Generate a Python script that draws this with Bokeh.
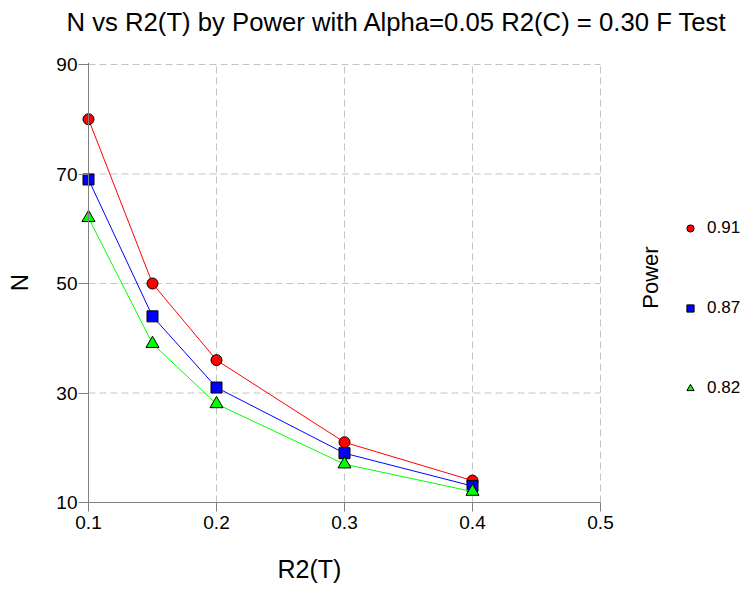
import math
from bokeh.plotting import figure
from bokeh.models import (Range1d, FixedTicker, Legend, LegendItem, Label, Span,
                          LinearAxis, Title)
from bokeh.embed import file_html
from bokeh.resources import INLINE

# ---- data ----
r2t = [0.1, 0.15, 0.2, 0.3, 0.4]
n_091 = [80, 50, 36, 21, 14]
n_087 = [69, 44, 31, 19, 13]
n_082 = [62, 39, 28, 17, 12]
powers = ["0.91", "0.87", "0.82"]
x_ticks = [0.1, 0.2, 0.3, 0.4, 0.5]
y_ticks = [10, 30, 50, 70, 90]
title_text = "N vs R2(T) by Power with Alpha=0.05 R2(C) = 0.30 F Test"
x_title = "R2(T)"
y_title = "N"
legend_title = "Power"

FONT = "Liberation Sans"
AXIS_GRAY = "#808080"
GRID_GRAY = "#c4c4c4"
DASH = "7 4"

# ---- layout (pixels) ----
W, H = 751, 589
AX_L, AX_R, AX_T, AX_B = 88, 600, 64, 502   # where x0..x1 / y0..y1 land
PAD_L, PAD_T = 10, 2                          # frame slack so edge markers are not clipped
FRAME_L = AX_L - PAD_L
x0, x1 = x_ticks[0], x_ticks[-1]
y0, y1 = y_ticks[0], y_ticks[-1]
sx = (AX_R - AX_L) / (x1 - x0)
sy = (AX_B - AX_T) / (y1 - y0)

p = figure(width=W, height=H,
           x_range=Range1d(x0 - PAD_L / sx, x1 + (W - AX_R) / sx),
           y_range=Range1d(y0, y1 + PAD_T / sy),
           output_backend="svg", toolbar_location=None,
           min_border_left=FRAME_L, min_border_right=0,
           min_border_top=AX_T - PAD_T, min_border_bottom=H - AX_B)
p.outline_line_color = None
p.background_fill_color = "white"
p.border_fill_color = "white"

xa = p.xaxis[0]
ya = p.yaxis[0]
for ax in (xa, ya):
    ax.axis_line_color = AXIS_GRAY
    ax.major_tick_line_color = AXIS_GRAY
    ax.minor_tick_line_color = None
    ax.major_label_text_font = FONT
    ax.major_label_text_font_size = "19px"
    ax.major_label_text_color = "black"
    ax.axis_label_text_font = FONT
    ax.axis_label_text_font_style = "normal"
    ax.axis_label_text_color = "black"

xa.ticker = FixedTicker(ticks=x_ticks)
xa.bounds = (x0, x1)
xa.major_tick_out = 9
xa.major_tick_in = 0
xa.major_label_standoff = 4

# y axis: ticks drawn inward across the left slack, axis line drawn at x0 by a Span
ya.ticker = FixedTicker(ticks=y_ticks)
ya.axis_line_color = None
ya.major_tick_out = 0
ya.major_tick_in = PAD_L
ya.major_label_standoff = 1
ya.axis_label = y_title
ya.axis_label_text_font_size = "24px"
ya.axis_label_standoff = 20
p.add_layout(Span(location=x0, dimension="height", line_color=AXIS_GRAY,
                  line_width=1, level="guide"))


def spacer(px):
    """An invisible axis used only to reserve px pixels in a side panel."""
    return LinearAxis(ticker=FixedTicker(ticks=[x0]),
                      major_label_overrides={x0: ""},
                      axis_line_color=None, major_tick_line_color=None,
                      minor_tick_line_color=None, major_tick_out=px,
                      major_tick_in=0, major_label_standoff=0,
                      major_label_text_font_size="0px")


# title: outermost panel above, lifted by a spacer
p.add_layout(spacer(27), "above")
p.title.text = title_text
p.title.text_font = FONT
p.title.text_font_size = "25.7px"
p.title.text_font_style = "normal"
p.title.text_color = "black"
p.title.align = "left"
p.title.vertical_align = "bottom"
p.title.offset = 66 - FRAME_L
if "standoff" in p.title.properties():
    p.title.standoff = 0

# x axis title: below the axis, left-aligned at the reference position
p.add_layout(spacer(23), "below")
xt = Title(text=x_title, align="left", vertical_align="top",
           offset=277 - FRAME_L, text_font=FONT, text_font_size="25px",
           text_font_style="normal", text_color="black")
if "standoff" in xt.properties():
    xt.standoff = 0
p.add_layout(xt, "below")

# grid: vertical lines from the x ticker, horizontal lines only over the data area
p.xgrid.ticker = FixedTicker(ticks=x_ticks)
p.xgrid.grid_line_color = GRID_GRAY
p.xgrid.grid_line_dash = DASH
p.ygrid.visible = False
gy = y_ticks[1:]
p.segment(x0=[x0] * len(gy), y0=gy, x1=[x1] * len(gy), y1=gy,
          line_color=GRID_GRAY, line_dash=DASH, line_width=1, level="underlay")

series = [(n_091, "#ff0000", "circle", 11),
          (n_087, "#0000ff", "square", 11),
          (n_082, "#00ff00", "triangle", 13)]
items = []
for (vals, color, marker, size), lab in zip(series, powers):
    p.line(r2t, vals, line_color=color, line_width=1)
    r = p.scatter(r2t, vals, marker=marker, size=size, fill_color=color,
                  line_color="black", line_width=1)
    items.append(LegendItem(label=lab, renderers=[r]))

# legend to the right of the data area (inside the frame slack)
legend = Legend(items=items, location=(681 - FRAME_L, AX_B - 398),
                orientation="vertical",
                glyph_width=18, glyph_height=20, label_height=20,
                spacing=60, padding=0, margin=0, label_standoff=8,
                label_text_font=FONT, label_text_font_size="17px",
                label_text_color="black",
                border_line_color=None, background_fill_alpha=0)
p.add_layout(legend, "center")

p.add_layout(Label(x=x1, y=(y0 + y1) / 2, x_offset=50, y_offset=6,
                   text=legend_title, angle=math.pi / 2,
                   text_font=FONT, text_font_size="22px", text_color="black",
                   text_align="center", text_baseline="middle"))

open("out.html", "w").write(file_html(p, INLINE))
